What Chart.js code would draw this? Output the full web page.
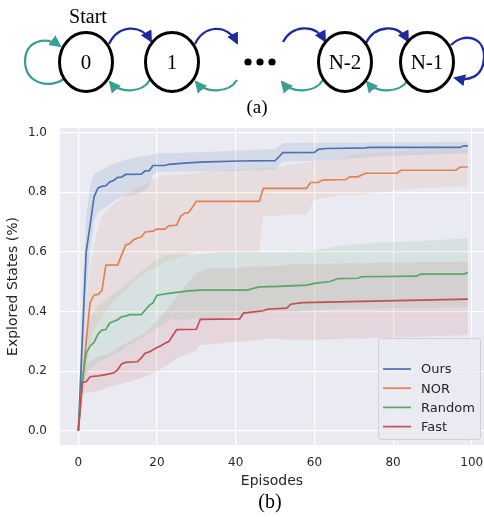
<!DOCTYPE html>
<html lang="en">
<head>
<meta charset="UTF-8">
<title>Explored States</title>
<script src="https://cdn.jsdelivr.net/npm/chart.js"></script>
<style>
  body { margin: 0; background: #fff; }
  #wrap { position: relative; width: 484px; height: 517px; overflow: hidden; }
  #wrap canvas, #wrap svg { position: absolute; left: 0; top: 0; }
  svg text { font-family: "Liberation Serif", "Times New Roman", serif; fill: #000; }
</style>
</head>
<body>
<div id="wrap">
  <canvas id="statesChart" width="484" height="517"></canvas>
  <svg width="484" height="517" viewBox="0 0 484 517">
    <defs>
      <marker id="headBlue" markerUnits="userSpaceOnUse" markerWidth="13" markerHeight="13" refX="10" refY="6" orient="auto">
        <path d="M0,0 L12,6 L0,12 z" fill="#1f2a9e"/>
      </marker>
      <marker id="headTeal" markerUnits="userSpaceOnUse" markerWidth="13" markerHeight="13" refX="10" refY="6" orient="auto">
        <path d="M0,0 L12,6 L0,12 z" fill="#3a9e90"/>
      </marker>
    </defs>
    <text x="88" y="23" font-size="20" text-anchor="middle">Start</text>

    <g fill="none" stroke-width="2.3">
      <!-- forward moves -->
      <path d="M109,44 C118,25 141,23 151,41" stroke="#1f2a9e" marker-end="url(#headBlue)"/>
      <path d="M195,44 C204,25 227,23 237,43" stroke="#1f2a9e" marker-end="url(#headBlue)"/>
      <path d="M283,42 C292,25 315,23 325,41" stroke="#1f2a9e" marker-end="url(#headBlue)"/>
      <path d="M366,43 C375,25 398,23 408,41" stroke="#1f2a9e" marker-end="url(#headBlue)"/>
      <path d="M451,45 C462,33 485,35 484,58 C483,78 468,81 455,78" stroke="#1f2a9e" marker-end="url(#headBlue)"/>
      <!-- backward moves -->
      <path d="M64,79 C50,89 26,84 25,62 C25,40 46,36 60,46" stroke="#3a9e90" marker-end="url(#headTeal)"/>
      <path d="M150,80 C142,93 120,94 110,82" stroke="#3a9e90" marker-end="url(#headTeal)"/>
      <path d="M237,80 C229,93 206,94 196,82" stroke="#3a9e90" marker-end="url(#headTeal)"/>
      <path d="M323,80 C315,93 292,94 282,82" stroke="#3a9e90" marker-end="url(#headTeal)"/>
      <path d="M408,80 C400,93 377,94 367,82" stroke="#3a9e90" marker-end="url(#headTeal)"/>
    </g>

    <g fill="#fff" stroke="#000" stroke-width="3">
      <ellipse cx="86" cy="62" rx="26.5" ry="29.5"/>
      <ellipse cx="172" cy="62" rx="26.5" ry="29.5"/>
      <ellipse cx="345" cy="62" rx="26.5" ry="29.5"/>
      <ellipse cx="427" cy="62" rx="26.5" ry="29.5"/>
    </g>
    <g font-size="21" text-anchor="middle">
      <text x="86" y="69">0</text>
      <text x="172" y="69">1</text>
      <text x="345" y="69">N-2</text>
      <text x="427" y="69">N-1</text>
    </g>
    <g fill="#000">
      <circle cx="248" cy="62" r="3.6"/>
      <circle cx="260" cy="62" r="3.6"/>
      <circle cx="272" cy="62" r="3.6"/>
    </g>
    <text x="257" y="113" font-size="19" text-anchor="middle">(a)</text>
    <text x="270" y="508" font-size="20" text-anchor="middle">(b)</text>
  </svg>
</div>

<script>
    // mean curves (episode of each change, value)
    const oursX = [0, 2, 3, 4, 5, 6, 7, 8, 9, 10, 11, 12, 16, 17, 18, 19, 22, 23, 27, 31, 33, 41, 50, 52, 60, 61, 63, 73, 74, 97, 98, 99];
    const oursY = [0, 0.60, 0.69, 0.785, 0.815, 0.82, 0.822, 0.835, 0.84, 0.85, 0.851, 0.86, 0.861, 0.872, 0.873, 0.89, 0.89, 0.894, 0.898, 0.901, 0.902, 0.905, 0.906, 0.933, 0.934, 0.944, 0.947, 0.949, 0.951, 0.951, 0.956, 0.956];

    const norX = [0, 1, 2, 3, 4, 5, 6, 7, 10, 12, 13, 14, 15, 16, 17, 19, 20, 22, 23, 25, 26, 27, 28, 29, 30, 46, 47, 58, 59, 61, 62, 68, 69, 71, 73, 81, 82, 96, 97, 99];
    const norY = [0, 0.15, 0.30, 0.43, 0.456, 0.458, 0.47, 0.556, 0.556, 0.623, 0.628, 0.64, 0.647, 0.65, 0.667, 0.67, 0.677, 0.677, 0.688, 0.69, 0.72, 0.73, 0.732, 0.75, 0.77, 0.77, 0.813, 0.813, 0.833, 0.833, 0.841, 0.843, 0.852, 0.852, 0.864, 0.864, 0.874, 0.874, 0.885, 0.885];

    const randomX = [0, 1, 2, 3, 4, 5, 6, 7, 8, 10, 11, 12, 13, 16, 17, 18, 19, 20, 23, 27, 28, 31, 43, 45, 46, 51, 58, 60, 64, 66, 71, 72, 86, 87, 98, 99];
    const randomY = [0, 0.17, 0.26, 0.285, 0.297, 0.325, 0.338, 0.34, 0.362, 0.373, 0.383, 0.385, 0.39, 0.39, 0.405, 0.42, 0.43, 0.455, 0.461, 0.468, 0.47, 0.472, 0.472, 0.48, 0.483, 0.485, 0.489, 0.495, 0.501, 0.511, 0.512, 0.517, 0.519, 0.526, 0.526, 0.531];

    const fastX = [0, 1, 2, 3, 5, 7, 9, 10, 11, 12, 15, 16, 17, 18, 20, 21, 22, 23, 25, 30, 31, 41, 42, 47, 48, 53, 54, 57, 66, 84, 99];
    const fastY = [0, 0.163, 0.165, 0.182, 0.185, 0.189, 0.195, 0.205, 0.225, 0.23, 0.232, 0.245, 0.261, 0.265, 0.28, 0.286, 0.294, 0.3, 0.34, 0.341, 0.374, 0.376, 0.395, 0.403, 0.408, 0.412, 0.425, 0.43, 0.433, 0.438, 0.442];

    // shaded bands (lower / upper edge)
    const oursBandX = [0, 1, 2, 3, 4, 5, 8, 11, 14, 16, 18, 19, 20, 25, 31, 40, 50, 51, 52, 60, 66, 75, 85, 99];
    const oursLo = [0, 0.2, 0.45, 0.6, 0.70, 0.735, 0.76, 0.785, 0.79, 0.8, 0.818, 0.86, 0.868, 0.869, 0.87, 0.872, 0.876, 0.89, 0.903, 0.905, 0.91, 0.92, 0.925, 0.93];
    const oursHi = [0, 0.45, 0.72, 0.82, 0.86, 0.87, 0.89, 0.905, 0.915, 0.92, 0.925, 0.928, 0.931, 0.932, 0.934, 0.94, 0.945, 0.955, 0.965, 0.966, 0.966, 0.967, 0.968, 0.97];

    const norBandX = [0, 1, 2, 3, 4, 5, 6, 8, 10, 12, 14, 16, 18, 20, 22, 25, 30, 36, 46, 47, 50, 53, 58, 60, 66, 70, 78, 81, 90, 99];
    const norLo = [0, 0.08, 0.2, 0.3, 0.34, 0.36, 0.38, 0.42, 0.45, 0.47, 0.5, 0.52, 0.54, 0.55, 0.57, 0.58, 0.6, 0.6, 0.6, 0.72, 0.72, 0.725, 0.725, 0.775, 0.79, 0.79, 0.80, 0.808, 0.815, 0.82];
    const norHi = [0, 0.25, 0.42, 0.55, 0.62, 0.68, 0.72, 0.75, 0.77, 0.79, 0.81, 0.82, 0.835, 0.85, 0.858, 0.86, 0.864, 0.874, 0.878, 0.88, 0.881, 0.892, 0.9, 0.903, 0.91, 0.926, 0.935, 0.938, 0.942, 0.946];

    const randomBandX = [0, 1, 2, 3, 4, 5, 8, 11, 13, 16, 19, 22, 24, 25, 29, 36, 42, 50, 55, 60, 66, 75, 85, 99];
    const randomLo = [0, 0.14, 0.19, 0.21, 0.22, 0.23, 0.25, 0.27, 0.29, 0.31, 0.338, 0.36, 0.38, 0.37, 0.375, 0.38, 0.39, 0.4, 0.4, 0.405, 0.41, 0.41, 0.412, 0.415];
    const randomHi = [0, 0.2, 0.32, 0.38, 0.4, 0.42, 0.45, 0.48, 0.5, 0.535, 0.567, 0.59, 0.59, 0.592, 0.59, 0.6, 0.6, 0.6, 0.602, 0.605, 0.62, 0.63, 0.635, 0.647];

    const fastBandX = [0, 1, 3, 5, 8, 10, 13, 17, 20, 22, 25, 28, 30, 31, 33, 40, 42, 49, 55, 60, 70, 85, 99];
    const fastLo = [0, 0.126, 0.13, 0.135, 0.148, 0.155, 0.165, 0.182, 0.2, 0.215, 0.243, 0.26, 0.27, 0.29, 0.29, 0.299, 0.3, 0.31, 0.305, 0.305, 0.31, 0.315, 0.322];
    const fastHi = [0, 0.2, 0.235, 0.25, 0.26, 0.28, 0.3, 0.33, 0.37, 0.4, 0.45, 0.5, 0.53, 0.535, 0.545, 0.545, 0.55, 0.552, 0.56, 0.56, 0.562, 0.565, 0.567];

    const seriesNames = ['Ours', 'NOR', 'Random', 'Fast'];
    const xTicks = [0, 20, 40, 60, 80, 100];
    const yTicks = [0, 0.2, 0.4, 0.6, 0.8, 1.0];

    const colors = ['#4c72b0', '#dd8452', '#55a868', '#c44e52'];
    const bandColors = ['rgba(76,114,176,0.13)', 'rgba(221,132,82,0.12)', 'rgba(85,168,104,0.12)', 'rgba(196,78,82,0.12)'];

    function pts(xs, ys) {
        return xs.map((x, i) => ({ x: x, y: ys[i] }));
    }

    const means = [[oursX, oursY], [norX, norY], [randomX, randomY], [fastX, fastY]];
    const bands = [[oursBandX, oursLo, oursHi], [norBandX, norLo, norHi],
                   [randomBandX, randomLo, randomHi], [fastBandX, fastLo, fastHi]];

    let datasets = [];
    // lines first so they sit on top; later entries draw underneath
    for (let i = 3; i >= 0; i--) {
        datasets.push({
            label: seriesNames[i],
            data: pts(means[i][0], means[i][1]),
            borderColor: colors[i],
            borderWidth: 1.7,
            pointRadius: 0,
            tension: 0,
            fill: false
        });
    }
    for (let i = 0; i < 4; i++) {
        const loIndex = datasets.length;
        datasets.push({
            label: seriesNames[i] + ' low',
            data: pts(bands[i][0], bands[i][1]),
            borderColor: 'rgba(0,0,0,0)',
            borderWidth: 0,
            pointRadius: 0,
            fill: false
        });
        datasets.push({
            label: seriesNames[i] + ' high',
            data: pts(bands[i][0], bands[i][2]),
            borderColor: 'rgba(0,0,0,0)',
            borderWidth: 0,
            pointRadius: 0,
            backgroundColor: bandColors[i],
            fill: loIndex
        });
    }

    // grey panel + boxed legend like seaborn
    const panel = {
        id: 'panel',
        beforeDraw(chart) {
            const { ctx, chartArea: a } = chart;
            ctx.save();
            ctx.fillStyle = '#eaeaf2';
            ctx.fillRect(a.left, a.top, a.right - a.left, a.bottom - a.top);
            ctx.restore();
        },
        afterDraw(chart) {
            const { ctx, chartArea: a } = chart;
            const x0 = a.right - 106, y0 = a.bottom - 107;
            ctx.save();
            ctx.beginPath();
            ctx.roundRect(x0 + 0.5, y0 + 0.5, 102, 101, 3);
            ctx.fillStyle = 'rgba(234,234,242,0.8)';
            ctx.fill();
            ctx.strokeStyle = '#cfcfd6';
            ctx.lineWidth = 1;
            ctx.stroke();
            ctx.font = "13px 'DejaVu Sans'";
            ctx.textBaseline = 'middle';
            seriesNames.forEach((name, i) => {
                const y = y0 + 31 + i * 19.2;
                ctx.strokeStyle = colors[i];
                ctx.lineWidth = 1.7;
                ctx.beginPath();
                ctx.moveTo(x0 + 5, y);
                ctx.lineTo(x0 + 33, y);
                ctx.stroke();
                ctx.fillStyle = '#262626';
                ctx.fillText(name, x0 + 43, y + 1);
            });
            ctx.restore();
        }
    };

    Chart.defaults.font.family = "'DejaVu Sans', sans-serif";
    Chart.defaults.color = '#262626';

    new Chart(document.getElementById('statesChart').getContext('2d'), {
        type: 'line',
        data: { datasets: datasets },
        options: {
            responsive: false,
            animation: false,
            layout: { padding: { top: 128, left: 0, right: 0, bottom: 0 } },
            plugins: {
                legend: { display: false },
                tooltip: { enabled: false }
            },
            scales: {
                x: {
                    type: 'linear',
                    min: -4.65,
                    max: 103.1,
                    afterBuildTicks: s => { s.ticks = xTicks.map(v => ({ value: v })); },
                    afterFit: s => { s.height = 72; s.paddingLeft = 0; s.paddingRight = 0; },
                    grid: { color: '#ffffff', lineWidth: 1.2, drawTicks: false },
                    border: { display: false },
                    ticks: { padding: 11, font: { size: 12 }, maxRotation: 0 },
                    title: { display: true, text: 'Episodes', font: { size: 14 }, padding: { top: 0, bottom: 27 } }
                },
                y: {
                    min: -0.047,
                    max: 1.0157,
                    afterBuildTicks: s => { s.ticks = yTicks.map(v => ({ value: v })); },
                    afterFit: s => { s.width = 60; s.paddingTop = 0; s.paddingBottom = 0; },
                    grid: { color: '#ffffff', lineWidth: 1.2, drawTicks: false },
                    border: { display: false },
                    ticks: { padding: 13, font: { size: 12 }, callback: v => v.toFixed(1) },
                    title: { display: true, text: 'Explored States (%)', font: { size: 14 }, padding: { top: 5, bottom: 0 } }
                }
            }
        },
        plugins: [panel]
    });
</script>
</body>
</html>
